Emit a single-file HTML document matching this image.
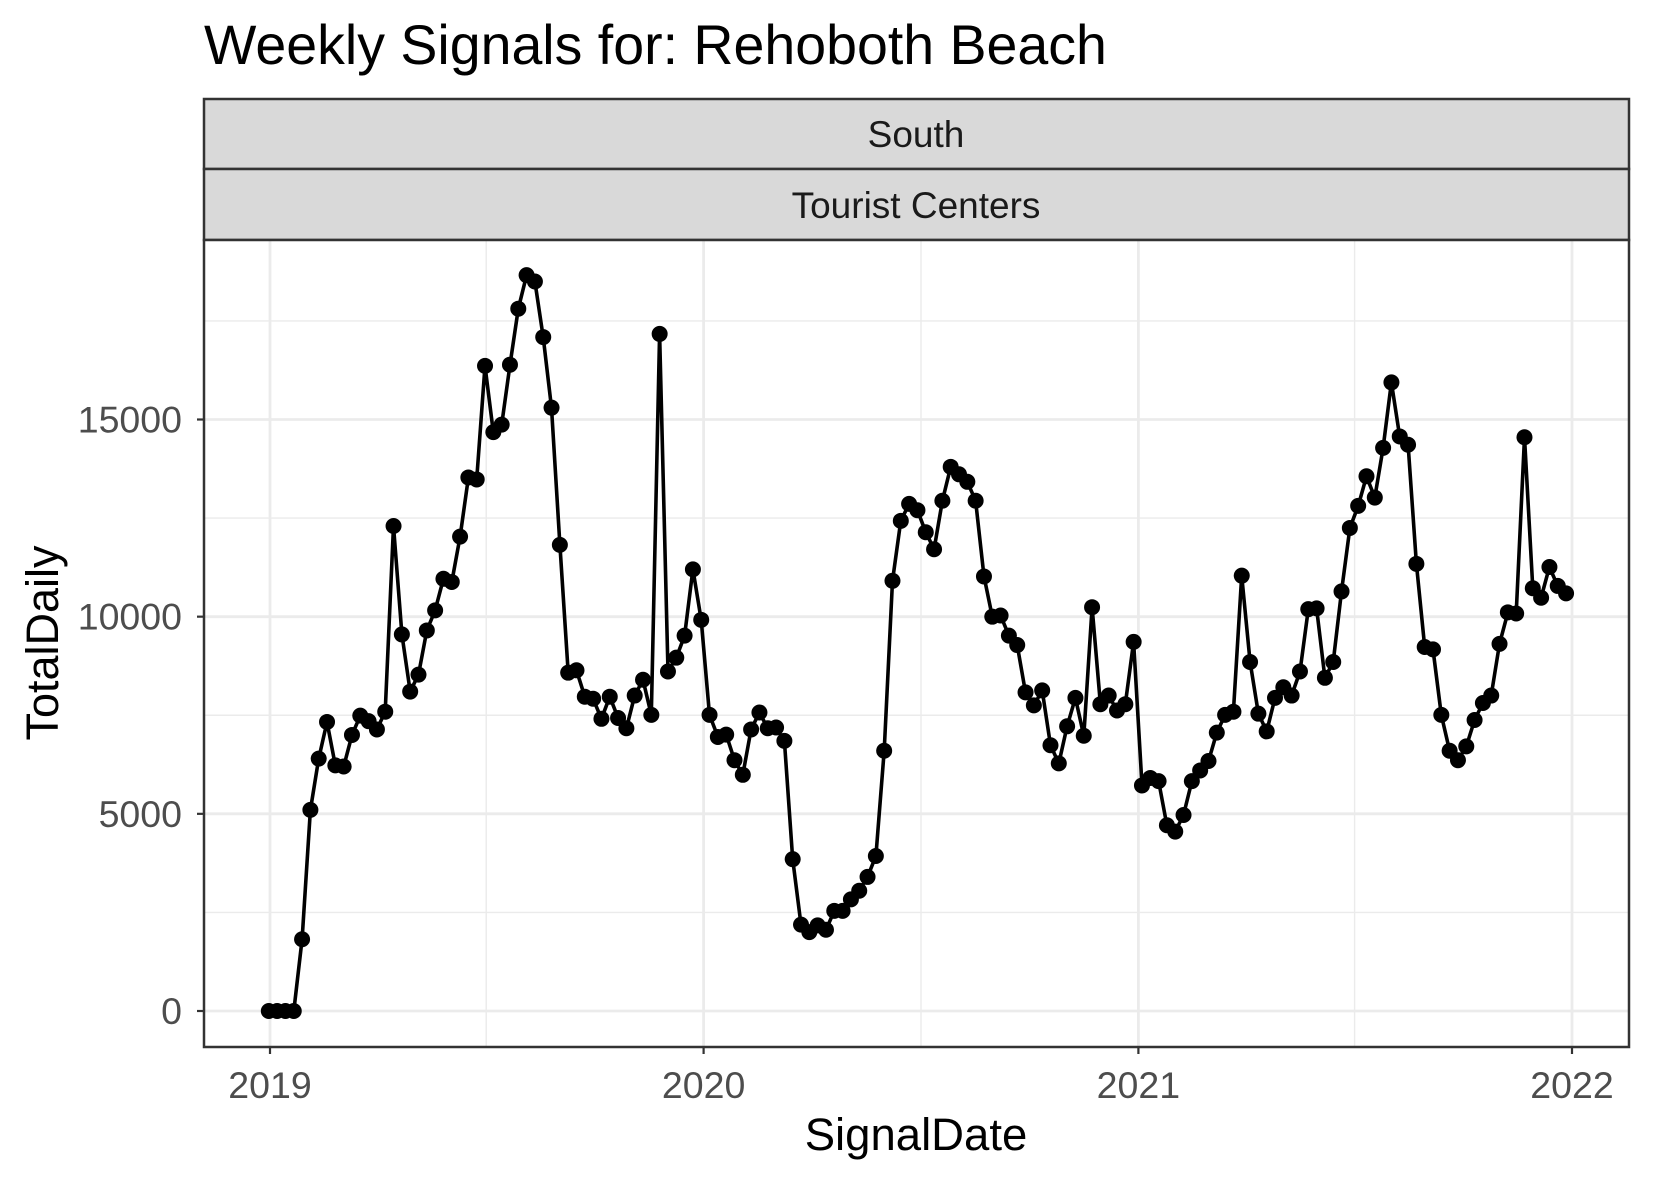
<!DOCTYPE html>
<html><head><meta charset="utf-8"><style>
html,body{margin:0;padding:0;background:#fff}
svg{display:block;font-family:"Liberation Sans",Arial,sans-serif}
</style></head><body>
<svg id="chart" width="1653" height="1181" viewBox="0 0 1653 1181" xmlns="http://www.w3.org/2000/svg">
<text x="204" y="64" font-size="55.5" fill="#000">Weekly Signals for: Rehoboth Beach</text>
<g>
<rect x="204" y="99" width="1425" height="70" fill="#D9D9D9" stroke="#333" stroke-width="2.5"/>
<text x="916" y="147" font-size="37" text-anchor="middle" fill="#1A1A1A">South</text>
</g>
<g>
<rect x="204" y="169" width="1425" height="71" fill="#D9D9D9" stroke="#333" stroke-width="2.5"/>
<text x="916" y="218" font-size="37" text-anchor="middle" fill="#1A1A1A">Tourist Centers</text>
</g>
<g id="grid"></g>
<g id="series"></g>
<rect x="204" y="240" width="1425" height="807" fill="none" stroke="#333" stroke-width="2.5"/>
<g id="axes"></g>
<text x="916" y="1150" font-size="45.5" text-anchor="middle" fill="#000">SignalDate</text>
<text transform="translate(58,643) rotate(-90)" font-size="45" text-anchor="middle" fill="#000">TotalDaily</text>
</svg>
<script>
const startDate = "2018-12-31";
const values = [0,0,0,0,1820,5100,6400,7330,6230,6200,7000,7490,7350,7140,7590,12300,9550,8100,8530,9650,10160,10960,10880,12030,13530,13480,16360,14680,14870,16390,17810,18660,18500,17090,15300,11820,8580,8640,7970,7920,7410,7970,7430,7170,8000,8400,7510,17170,8610,8960,9520,11200,9920,7510,6950,7010,6360,5990,7140,7570,7170,7190,6850,3850,2190,2000,2170,2060,2540,2540,2830,3050,3400,3930,6600,10910,12430,12860,12700,12140,11710,12940,13800,13610,13420,12940,11020,10000,10030,9520,9280,8080,7750,8130,6740,6280,7220,7940,6980,10240,7780,8000,7620,7780,9360,5720,5910,5830,4710,4550,4970,5830,6100,6340,7060,7510,7590,11040,8850,7540,7090,7940,8210,8000,8610,10190,10210,8450,8850,10640,12250,12810,13560,13020,14280,15940,14570,14360,11340,9230,9170,7510,6600,6360,6710,7380,7810,8000,9310,10110,10080,14550,10720,10480,11260,10780,10590];
const yTicks = [0,5000,10000,15000];
const yMinor = [2500,7500,12500,17500];
const xTickLabels = ["2019","2020","2021","2022"];
const xMinorDates = ["2019-07-02","2020-07-02","2021-07-02"];

const NS="http://www.w3.org/2000/svg";
const DAY=86400000;
const t0=Date.UTC(2019,0,1), t1=Date.UTC(2022,0,1);
function xScale(ms){return 270+(ms-t0)/(t1-t0)*(1572-270);}
function yScale(v){return 1011-v*(1011-419.5)/15000;}
function parse(s){const p=s.split("-");return Date.UTC(+p[0],+p[1]-1,+p[2]);}
function mk(tag,attrs,parent){const e=document.createElementNS(NS,tag);for(const k in attrs)e.setAttribute(k,attrs[k]);parent.appendChild(e);return e;}
const grid=document.getElementById("grid"), series=document.getElementById("series"), axes=document.getElementById("axes");
mk("rect",{x:204,y:240,width:1425,height:807,fill:"#fff"},grid);
yMinor.forEach(v=>{const y=yScale(v);const l=mk("line",{x1:204,x2:1629,y1:y,y2:y,stroke:"#EBEBEB","stroke-width":1.4},grid);

});
xMinorDates.forEach(d=>{const x=xScale(parse(d));const l=mk("line",{x1:x,x2:x,y1:240,y2:1047,stroke:"#EBEBEB","stroke-width":1.4},grid);

});
yTicks.forEach(v=>{const y=yScale(v);const l=mk("line",{x1:204,x2:1629,y1:y,y2:y,stroke:"#EBEBEB","stroke-width":2.8},grid);


const tk=mk("line",{x1:197,x2:204,y1:y,y2:y,stroke:"#333","stroke-width":2.2},axes);


const t=mk("text",{x:182,y:y+13,"font-size":37.5,"text-anchor":"end",fill:"#4D4D4D"},axes);t.textContent=v;

});
xTickLabels.forEach(s=>{const x=xScale(Date.UTC(+s,0,1));const l=mk("line",{x1:x,x2:x,y1:240,y2:1047,stroke:"#EBEBEB","stroke-width":2.8},grid);


const tk=mk("line",{x1:x,x2:x,y1:1047,y2:1054,stroke:"#333","stroke-width":2.2},axes);


const t=mk("text",{x:x,y:1098,"font-size":37.5,"text-anchor":"middle",fill:"#4D4D4D"},axes);t.textContent=s;

});
const s0=parse(startDate);
const pts=values.map((v,i)=>[xScale(s0+i*7*DAY),yScale(v)]);
const line=mk("polyline",{points:pts.map(p=>p[0].toFixed(1)+","+p[1].toFixed(1)).join(" "),fill:"none",stroke:"#000","stroke-width":3.6,"stroke-linejoin":"round"},series);


pts.forEach(p=>{const c=mk("circle",{cx:p[0],cy:p[1],r:8,fill:"#000"},series);

});
</script>
</body></html>
